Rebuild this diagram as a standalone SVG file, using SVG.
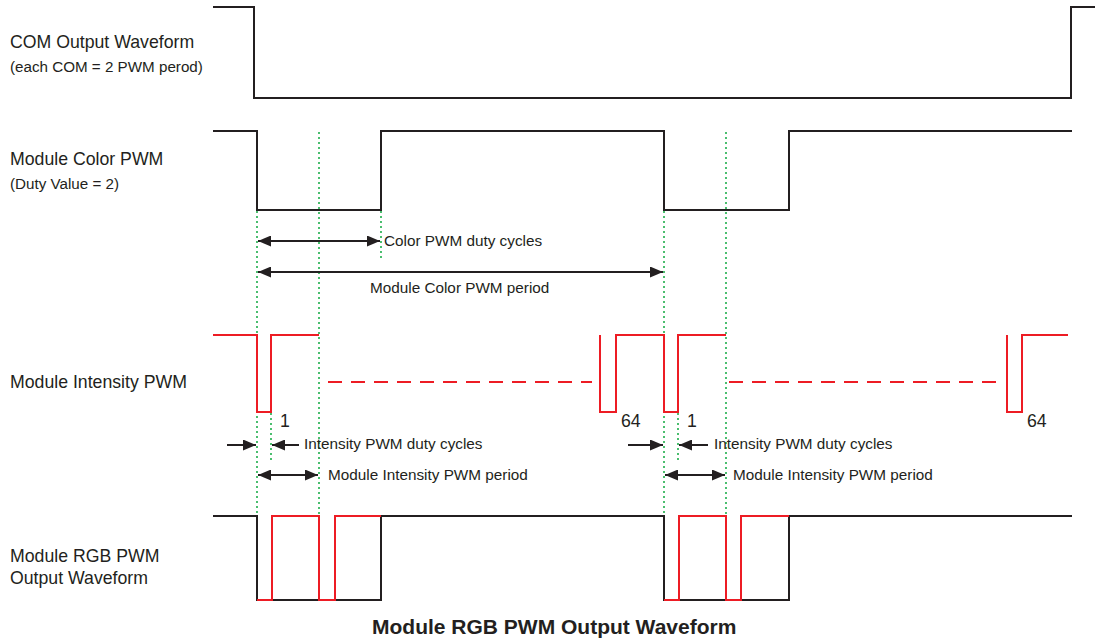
<svg xmlns="http://www.w3.org/2000/svg" width="1095" height="641" viewBox="0 0 1095 641">
<style>
text{font-family:"Liberation Sans",Arial,sans-serif;fill:#231f20}
.lbl{font-size:17.7px}
.sub{font-size:15.2px}
.ann{font-size:15.3px}
.num{font-size:17.7px}
.title{font-size:21px;font-weight:bold}
.wave{fill:none;stroke:#231f20;stroke-width:2}
.red{fill:none;stroke:#ed1c24;stroke-width:2}
.dash{stroke:#ed1c24;stroke-width:2;stroke-dasharray:14 9}
.guide{stroke:#1fae4b;stroke-width:1.6;stroke-dasharray:2 3}
.arr{stroke:#231f20;stroke-width:2;fill:none}
</style>
<defs>
<marker id="ah" markerUnits="userSpaceOnUse" markerWidth="13" markerHeight="11" refX="13" refY="5.5" orient="auto-start-reverse">
<path d="M0,0 L13,5.5 L0,11 z" fill="#231f20"/>
</marker>
</defs>
<rect width="1095" height="641" fill="#fff"/>
<g id="guides">
<line class="guide" x1="257" y1="211" x2="257" y2="516"/>
<line class="guide" x1="319" y1="132" x2="319" y2="516"/>
<line class="guide" x1="381" y1="211" x2="381" y2="258"/>
<line class="guide" x1="271" y1="413" x2="271" y2="461"/>
<line class="guide" x1="664" y1="211" x2="664" y2="516"/>
<line class="guide" x1="726" y1="132" x2="726" y2="516"/>
<line class="guide" x1="678" y1="413" x2="678" y2="461"/>
</g>
<g id="com">
<text class="lbl" x="10" y="48">COM Output Waveform</text>
<text class="sub" x="10" y="72">(each COM = 2 PWM perod)</text>
<path class="wave" d="M213,7 H254 V98 H1071 V7 H1095"/>
</g>
<g id="color-pwm">
<text class="lbl" x="10" y="165">Module Color PWM</text>
<text class="sub" x="10" y="189">(Duty Value = 2)</text>
<path class="wave" d="M213,131 H257 V210 H381 V131 H664 V210 H789 V131 H1072"/>
</g>
<g id="intensity-pwm">
<text class="lbl" x="10" y="388">Module Intensity PWM</text>
<path class="red" d="M213,335 H257 V412 H271 V335 H319"/>
<line class="dash" x1="328" y1="382" x2="592" y2="382"/>
<path class="red" d="M600,335 V412 H616 V335 H664 V412 H678 V335 H726"/>
<line class="dash" x1="729" y1="382" x2="997" y2="382"/>
<path class="red" d="M1007,335 V412 H1022 V335 H1068"/>
<text class="num" x="280" y="427">1</text>
<text class="num" x="621" y="427">64</text>
<text class="num" x="687" y="427">1</text>
<text class="num" x="1027" y="427">64</text>
</g>
<g id="rgb-pwm">
<text class="lbl" x="10" y="562">Module RGB PWM</text>
<text class="lbl" x="10" y="584">Output Waveform</text>
<path class="wave" d="M213,516 H257 V600 H381 V516 H664 V600 H789 V516 H1072"/>
<path class="red" d="M257,600 H272 V516 H319 V600 H335 V516 H381"/>
<path class="red" d="M664,600 H679 V516 H726 V600 H741 V516 H789"/>
</g>
<g id="connectors">
<line class="arr" x1="258" y1="241" x2="380" y2="241" marker-start="url(#ah)" marker-end="url(#ah)"/>
<line class="arr" x1="258" y1="272" x2="663" y2="272" marker-start="url(#ah)" marker-end="url(#ah)"/>
<line class="arr" x1="227" y1="445" x2="256" y2="445" marker-end="url(#ah)"/>
<line class="arr" x1="299" y1="445" x2="272" y2="445" marker-end="url(#ah)"/>
<line class="arr" x1="258" y1="475" x2="318" y2="475" marker-start="url(#ah)" marker-end="url(#ah)"/>
<line class="arr" x1="628" y1="445" x2="663" y2="445" marker-end="url(#ah)"/>
<line class="arr" x1="708" y1="445" x2="679" y2="445" marker-end="url(#ah)"/>
<line class="arr" x1="665" y1="475" x2="725" y2="475" marker-start="url(#ah)" marker-end="url(#ah)"/>
</g>
<g id="labels">
<text class="ann" x="384" y="246">Color PWM duty cycles</text>
<text class="ann" x="370" y="293">Module Color PWM period</text>
<text class="ann" x="304" y="449">Intensity PWM duty cycles</text>
<text class="ann" x="328" y="480">Module Intensity PWM period</text>
<text class="ann" x="714" y="449">Intensity PWM duty cycles</text>
<text class="ann" x="733" y="480">Module Intensity PWM period</text>
<text class="title" x="372" y="634">Module RGB PWM Output Waveform</text>
</g>
</svg>
